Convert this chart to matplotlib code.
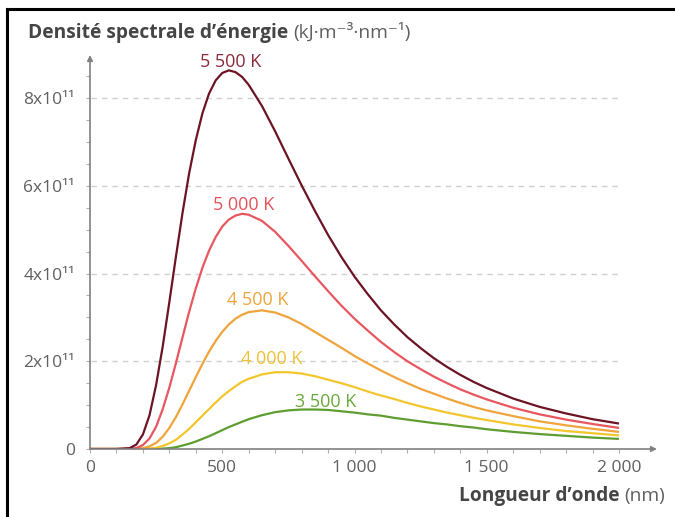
import matplotlib
matplotlib.use("Agg")
import matplotlib.pyplot as plt
from matplotlib.lines import Line2D

# longueurs d'onde (nm) et densités (en 1e11 kJ.m-3.nm-1)
wavelength = [0, 100, 150, 175, 200, 225, 250, 275, 300, 325, 350, 375, 400, 425,
              450, 475, 500, 525, 550, 575, 600, 650, 700, 750, 800, 850, 900,
              950, 1000, 1050, 1100, 1150, 1200, 1250, 1300, 1350, 1400, 1450, 1500,
              1600, 1700, 1800, 1900, 2000]
b5500 = [0, 0, 0.02, 0.10, 0.33, 0.77, 1.46, 2.34, 3.35, 4.39, 5.39, 6.29, 7.04, 7.65,
         8.10, 8.40, 8.57, 8.63, 8.59, 8.48, 8.30, 7.82, 7.24, 6.62, 6.01, 5.43, 4.88,
         4.38, 3.93, 3.53, 3.16, 2.84, 2.55, 2.30, 2.07, 1.87, 1.69, 1.53, 1.39,
         1.15, 0.96, 0.81, 0.68, 0.58]
b5000 = [0, 0, 0.003, 0.02, 0.09, 0.24, 0.51, 0.91, 1.40, 1.96, 2.55, 3.13, 3.66, 4.13,
         4.52, 4.83, 5.07, 5.23, 5.32, 5.36, 5.34, 5.20, 4.95, 4.63, 4.29, 3.94, 3.60,
         3.27, 2.97, 2.70, 2.44, 2.21, 2.00, 1.82, 1.65, 1.50, 1.36, 1.24, 1.13,
         0.94, 0.79, 0.67, 0.57, 0.48]
b4500 = [0, 0, 0, 0.004, 0.02, 0.06, 0.14, 0.28, 0.48, 0.73, 1.02, 1.33, 1.64, 1.94,
         2.22, 2.46, 2.67, 2.84, 2.97, 3.06, 3.12, 3.16, 3.11, 3.00, 2.85, 2.67, 2.49,
         2.31, 2.12, 1.95, 1.79, 1.64, 1.50, 1.37, 1.26, 1.15, 1.05, 0.96, 0.88,
         0.75, 0.63, 0.54, 0.46, 0.39]
b4000 = [0, 0, 0, 0, 0.002, 0.01, 0.03, 0.07, 0.13, 0.21, 0.33, 0.46, 0.61, 0.76,
         0.91, 1.06, 1.20, 1.32, 1.43, 1.53, 1.60, 1.70, 1.75, 1.75, 1.72, 1.66, 1.58,
         1.50, 1.41, 1.31, 1.22, 1.14, 1.05, 0.97, 0.90, 0.83, 0.77, 0.71, 0.66,
         0.56, 0.48, 0.41, 0.36, 0.31]
b3500 = [0, 0, 0, 0, 0, 0.001, 0.004, 0.01, 0.02, 0.04, 0.08, 0.12, 0.17, 0.23,
         0.29, 0.36, 0.43, 0.50, 0.56, 0.62, 0.68, 0.77, 0.84, 0.88, 0.90, 0.90, 0.89,
         0.86, 0.83, 0.79, 0.76, 0.71, 0.67, 0.63, 0.59, 0.56, 0.52, 0.49, 0.45,
         0.39, 0.34, 0.30, 0.26, 0.23]

curve_labels = ["3 500 K", "4 000 K", "4 500 K", "5 000 K", "5 500 K"]
x_ticks = [0, 500, 1000, 1500, 2000]
x_ticklabels = ["0", "500", "1 000", "1 500", "2 000"]
y_ticks = [0, 2, 4, 6, 8]
y_ticklabels = ["0", "2x10¹¹", "4x10¹¹", "6x10¹¹", "8x10¹¹"]

plt.rcParams['font.family'] = ['Open Sans', 'DejaVu Sans']

W, H = 675, 517
fig = plt.figure(figsize=(W / 100, H / 100), dpi=100)

# axe placé en pixels : 0 nm -> x=90, 2000 nm -> x=619 ; 0 -> y=449, 8e11 -> y=98
px_nm = 529 / 2000
px_y = 43.875
ax_left, ax_right = 90, 657
ax_bottom, ax_top = 449, 55
ax = fig.add_axes([ax_left / W, (H - ax_bottom) / H,
                   (ax_right - ax_left) / W, (ax_bottom - ax_top) / H])
ax.set_xlim(0, (ax_right - ax_left) / px_nm)
ax.set_ylim(0, (ax_bottom - ax_top) / px_y)
ax.patch.set_alpha(0)
for s in ax.spines.values():
    s.set_visible(False)

axis_col = "#808080"
ax.annotate("", xy=(1, 0), xytext=(0, 0), xycoords="axes fraction",
            arrowprops=dict(arrowstyle="-|>", color=axis_col, lw=1.2,
                            mutation_scale=8, shrinkA=0, shrinkB=0))
ax.annotate("", xy=(0, 1), xytext=(0, 0), xycoords="axes fraction",
            arrowprops=dict(arrowstyle="-|>", color=axis_col, lw=1.2,
                            mutation_scale=8, shrinkA=0, shrinkB=0))

# lignes de grille pointillées
ax.hlines(y_ticks[1:], 5, 2000, colors="#cfcfcf", lw=1.0, linestyles=(0, (4, 3.5)))

# graduations
ax.set_xticks(x_ticks)
ax.set_xticklabels(x_ticklabels)
ax.set_xticks(range(0, 2001, 100), minor=True)
ax.set_yticks(y_ticks)
ax.set_yticklabels(y_ticklabels)
ax.set_yticks([i * 0.5 for i in range(18)], minor=True)
ax.tick_params(axis="both", which="both", color="#b0b0b0", length=3, width=0.8,
               labelcolor="#606060", labelsize=12.5)
ax.tick_params(axis="x", pad=5)
ax.tick_params(axis="y", pad=8)

series = [b3500, b4000, b4500, b5000, b5500]
line_cols = ["#5e9e30", "#f2c62c", "#efa43c", "#e8575f", "#6c1424"]
text_cols = ["#6aa83c", "#eec236", "#f0a43c", "#e4535b", "#8a2c3c"]
label_pos = [(892, 1.07), (688, 2.05), (635, 3.39), (582, 5.56), (533, 8.82)]
for vals, lc, tc, lab, (lx, ly) in zip(series, line_cols, text_cols, curve_labels, label_pos):
    ax.plot(wavelength, vals, color=lc, lw=1.6, solid_capstyle="butt")
    ax.text(lx, ly, lab, color=tc, fontsize=13, ha="center", va="center")

# titres en deux parties (gras + unités)
fig.canvas.draw()
r = fig.canvas.get_renderer()
t1 = fig.text(28 / W, 1 - 38 / H, "Densité spectrale d’énergie", fontsize=13.8,
              fontweight="bold", color="#454545", ha="left", va="baseline")
bb = t1.get_window_extent(r)
fig.text((bb.x1 + 5) / W, 1 - 38 / H, "(kJ·m⁻³·nm⁻¹)", fontsize=13.8,
         color="#606060", ha="left", va="baseline")

t2 = fig.text(665 / W, 1 - 501 / H, "(nm)", fontsize=13.8, color="#606060",
              ha="right", va="baseline")
bb2 = t2.get_window_extent(r)
fig.text((bb2.x0 - 5) / W, 1 - 501 / H, "Longueur d’onde", fontsize=13.8,
         fontweight="bold", color="#454545", ha="right", va="baseline")

# cadre noir (haut et gauche)
fig.add_artist(Line2D([7 / W, 7 / W], [0, 1 - 9 / H], color="black", lw=2.2,
                      transform=fig.transFigure, solid_capstyle="projecting"))
fig.add_artist(Line2D([7 / W, 1], [1 - 9 / H, 1 - 9 / H], color="black", lw=2.2,
                      transform=fig.transFigure, solid_capstyle="projecting"))

fig.savefig("out.png", dpi=100)
